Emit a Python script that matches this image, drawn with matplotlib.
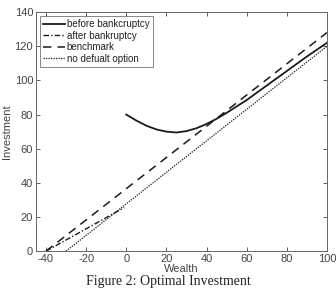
import matplotlib
matplotlib.use("Agg")
import matplotlib.pyplot as plt

# before bankruptcy (solid curve)
before_w = [0, 5, 10, 15, 20, 25, 30, 35, 40, 45, 50, 60, 70, 80, 90, 100]
before_i = [80, 76.5, 73.5, 71.3, 70, 69.5, 70.3, 72, 74.5, 77.5, 81, 88.5, 97, 105.5, 114, 122]

# after bankruptcy (dash-dot)
after_w = [-40, -1]
after_i = [0, 25.5]

# benchmark (dashed)
bench_w = [-40, 100]
bench_i = [0, 128]

# no default option (dotted)
nodef_w = [-30, 100]
nodef_i = [0, 120]

xticks = [-40, -20, 0, 20, 40, 60, 80, 100]
yticks = [0, 20, 40, 60, 80, 100, 120, 140]

plt.rcParams['font.family'] = ['Liberation Sans', 'DejaVu Sans']
plt.rcParams['axes.unicode_minus'] = False

fig = plt.figure(figsize=(3.36, 2.89), dpi=100)
ax = fig.add_axes([0.107, 0.131, 0.866, 0.827])

lc = "#1a1a1a"
ax.plot(before_w, before_i, color=lc, lw=1.3, label="before bankcruptcy")
ax.plot(after_w, after_i, color=lc, lw=1.0, linestyle=(0, (4, 1.5, 1, 1.5)), label="after bankruptcy")
ax.plot(bench_w, bench_i, color=lc, lw=1.1, linestyle=(0, (5.5, 4)), label="benchmark")
ax.plot(nodef_w, nodef_i, color=lc, lw=0.9, linestyle=(0, (1, 1)), label="no defualt option")

ax.set_xlim(-45, 100)
ax.set_ylim(0, 140)
ax.set_xticks(xticks)
ax.set_yticks(yticks)
ax.tick_params(direction="in", top=True, right=True, length=3, width=0.6,
               labelsize=8, colors="#444444", pad=2)
for s in ax.spines.values():
    s.set_color("#666666")
    s.set_linewidth(0.7)

ax.set_xlabel("Wealth", fontsize=8, color="#444444", labelpad=0)
ax.set_ylabel("Investment", fontsize=8, color="#444444", labelpad=2)

leg = ax.legend(loc="upper left", fontsize=7, frameon=True, fancybox=False,
                edgecolor="#666666", handlelength=2.2, handletextpad=0.2,
                labelspacing=0.15, borderpad=0.35, borderaxespad=0.4)
leg.get_frame().set_linewidth(0.7)
for t in leg.get_texts():
    t.set_color("#222222")

fig.text(0.5, 0.004, "Figure 2: Optimal Investment", ha="center", va="bottom",
         fontsize=10, family=["Liberation Serif", "DejaVu Serif"], color="#222222")

fig.savefig("out.png", dpi=100)
